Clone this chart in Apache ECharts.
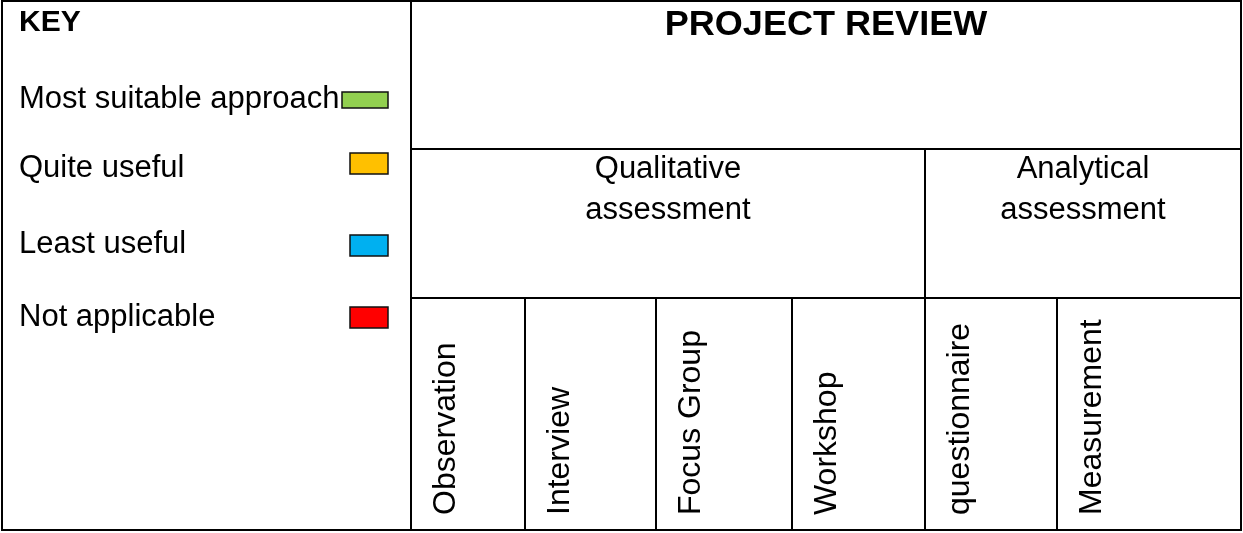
<!DOCTYPE html>
<html>
<head>
<meta charset="utf-8">
<script src="https://cdn.jsdelivr.net/npm/echarts@6/dist/echarts.min.js"></script>
<style>
html,body{margin:0;padding:0;background:#fff;}
#chart{width:1243px;height:533px;}
</style>
</head>
<body>
<div id="chart"></div>
<script>
// ---- content ----
const keyTitle = 'KEY';
const keyLabels = ['Most suitable approach', 'Quite useful', 'Least useful', 'Not applicable'];
const keyColors = ['#92D050', '#FFC000', '#00B0F0', '#FF0000'];
const reviewTitle = 'PROJECT REVIEW';
const groupNames = ['Qualitative\nassessment', 'Analytical\nassessment'];
const groupSizes = [4, 2];
const methods = ['Observation', 'Interview', 'Focus Group', 'Workshop', 'questionnaire', 'Measurement'];

// ---- layout (page units) ----
const W = 1243, H = 533;
const keyX = [2, 411];
const colEdges = [411, 525, 656, 792, 925, 1057, 1241];
const rowEdges = [1, 149, 298, 530];
const keyTextX = 19;
const keyTitleY = 23;
const titleY = 25;
const keyTextY = [99, 168, 244, 317];
const swatchBoxes = [[342, 92, 388, 108], [350, 153, 388, 174], [350, 235, 388, 256], [350, 307, 388, 328]];
const groupTextY = 190;
const methodLabelDX = 35;
const methodLabelBottom = 515;
const FONT = '"Liberation Sans", Arial, Helvetica, sans-serif';

// ---- build cells ----
const cells = [];
cells.push({ x0: keyX[0], y0: rowEdges[0], x1: keyX[1], y1: rowEdges[3], kind: 'key' });
cells.push({ x0: colEdges[0], y0: rowEdges[0], x1: colEdges[colEdges.length - 1], y1: rowEdges[1], kind: 'title', text: reviewTitle });
let ci = 0;
groupNames.forEach((g, i) => {
  const x0 = colEdges[ci], x1 = colEdges[ci + groupSizes[i]];
  cells.push({ x0, y0: rowEdges[1], x1, y1: rowEdges[2], kind: 'group', text: g });
  ci += groupSizes[i];
});
methods.forEach((m, i) => {
  cells.push({ x0: colEdges[i], y0: rowEdges[2], x1: colEdges[i + 1], y1: rowEdges[3], kind: 'method', text: m });
});

function renderItem(params, api) {
  const c = cells[params.dataIndex];
  const p0 = api.coord([c.x0, c.y0]);
  const p1 = api.coord([c.x1, c.y1]);
  const children = [{
    type: 'rect',
    shape: { x: p0[0], y: p0[1], width: p1[0] - p0[0], height: p1[1] - p0[1] },
    style: { fill: 'none', stroke: '#000', lineWidth: 2 }
  }];
  if (c.kind === 'key') {
    const t = api.coord([keyTextX, keyTitleY]);
    children.push({ type: 'text', x: t[0], y: t[1],
      style: { text: keyTitle, font: 'bold 30px ' + FONT, fill: '#000', align: 'left', verticalAlign: 'middle' } });
    keyLabels.forEach((lab, i) => {
      const p = api.coord([keyTextX, keyTextY[i]]);
      children.push({ type: 'text', x: p[0], y: p[1],
        style: { text: lab, font: '31px ' + FONT, fill: '#000', align: 'left', verticalAlign: 'middle' } });
      const b = swatchBoxes[i];
      const s0 = api.coord([b[0], b[1]]);
      const s1 = api.coord([b[2], b[3]]);
      children.push({ type: 'rect', shape: { x: s0[0], y: s0[1], width: s1[0] - s0[0], height: s1[1] - s0[1] },
        style: { fill: keyColors[i], stroke: '#111', lineWidth: 1.5 } });
    });
  } else if (c.kind === 'title') {
    const p = api.coord([(c.x0 + c.x1) / 2, titleY]);
    children.push({ type: 'text', x: p[0], y: p[1], scaleX: 1.03,
      style: { text: c.text, font: 'bold 35px ' + FONT, fill: '#000', align: 'center', verticalAlign: 'middle' } });
  } else if (c.kind === 'group') {
    const p = api.coord([(c.x0 + c.x1) / 2, groupTextY]);
    children.push({ type: 'text', x: p[0], y: p[1],
      style: { text: c.text, font: '31px ' + FONT, lineHeight: 41, fill: '#000', align: 'center', verticalAlign: 'middle' } });
  } else if (c.kind === 'method') {
    const p = api.coord([c.x0 + methodLabelDX, methodLabelBottom]);
    children.push({ type: 'text', x: p[0], y: p[1], rotation: Math.PI / 2,
      style: { text: c.text, font: '32px ' + FONT, fill: '#000', align: 'left', verticalAlign: 'middle' } });
  }
  return { type: 'group', children };
}

const chart = echarts.init(document.getElementById('chart'), null, { renderer: 'canvas' });
chart.setOption({
  animation: false,
  backgroundColor: '#fff',
  grid: { left: 0, right: 0, top: 0, bottom: 0 },
  xAxis: { type: 'value', min: 0, max: W, show: false },
  yAxis: { type: 'value', min: 0, max: H, inverse: true, show: false },
  series: [{
    type: 'custom',
    renderItem,
    silent: true,
    clip: false,
    data: cells.map((c, i) => [i])
  }]
});
</script>
</body>
</html>
